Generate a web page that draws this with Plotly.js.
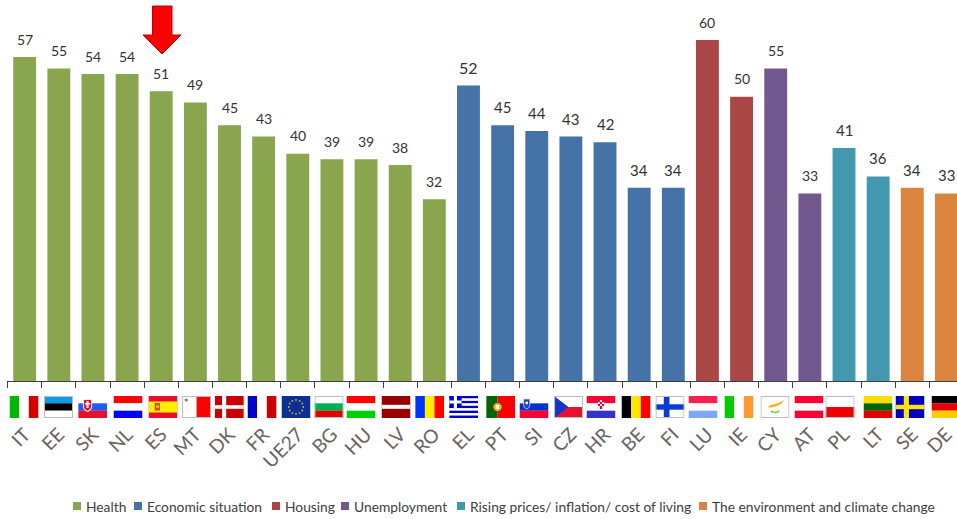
<!DOCTYPE html>
<html>
<head>
<meta charset="utf-8">
<script src="https://cdn.plot.ly/plotly-3.0.1.min.js"></script>
<style>html,body{margin:0;padding:0;background:#fff;overflow:hidden}#chart{width:957px;height:519px}</style>
</head>
<body>
<div id="chart"></div>
<script>
// Countries in chart order, with the share citing each country's top concern
const countries = ['IT','EE','SK','NL','ES','MT','DK','FR','UE27','BG','HU','LV','RO','EL','PT','SI','CZ','HR','BE','FI','LU','IE','CY','AT','PL','LT','SE','DE'];
const values = [57,55,54,54,51,49,45,43,40,39,39,38,32,52,45,44,43,42,34,34,60,50,55,33,41,36,34,33];
// Concerns, and how many consecutive countries fall under each one
const themes = ['Health','Economic situation','Housing','Unemployment','Rising prices/ inflation/ cost of living','The environment and climate change'];
const themeCounts = [13,7,2,2,2,2];
const themeColors = ['#89A54E','#4572A7','#AA4643','#71588F','#4198AF','#DB843D'];

// Page geometry, in pixels
const W = 957, H = 519, plotLeft = 7, axisY = 381;
const plotW = W - plotLeft;
const px = x => (x - plotLeft) / plotW;
const py = y => (axisY - y) / axisY;

// Value label sizes
const labelSizes = [14,14,14,14,14,14,14,14,14,14,14,14,14,16,15,15,15,15,15,15,14,14,14,14,15,15,15,15];

// Bars, one trace per concern
const traces = [];
let start = 0;
themes.forEach((name, i) => {
  const end = start + themeCounts[i];
  traces.push({
    type: 'bar', name,
    x: countries.slice(start, end),
    y: values.slice(start, end),
    width: 0.67,
    marker: {color: themeColors[i]},
    showlegend: false
  });
  start = end;
});

// Flag artwork on a 28 x 22 grid
const rect = (x, y, w, h, c) => `<rect x="${x}" y="${y}" width="${w}" height="${h}" fill="${c}"/>`;
const hBands = cs => cs.map((c, i) => rect(0, i * 22 / cs.length, 28, 22 / cs.length + 0.1, c)).join('');
const vBands = cs => cs.map((c, i) => rect(i * 28 / cs.length, 0, 28 / cs.length + 0.1, 22, c)).join('');
const frame = '<rect x="0.5" y="0.5" width="27" height="21" fill="none" stroke="#bdbdbd" stroke-width="1"/>';
const euStars = () => {
  let s = rect(0, 0, 28, 22, '#0b2f94');
  for (let k = 0; k < 12; k++) {
    const a = k * Math.PI / 6;
    s += `<circle cx="${14 + 7 * Math.cos(a)}" cy="${11 + 7 * Math.sin(a)}" r="0.9" fill="#c9b23c"/>`;
  }
  return s;
};
const flagArt = {
  IT: vBands(['#00b800','#ffffff','#d40000']),
  EE: hBands(['#0a9cea','#000000','#ffffff']) + frame,
  SK: hBands(['#ffffff','#1a5cff','#e8102a']) + `<path d="M5 3.5h8v7q0 3-4 5q-4-2-4-5z" fill="#e8102a" stroke="#eef" stroke-width="1"/>` + rect(8, 5, 2, 7, '#fff') + rect(6.5, 7, 5, 1.5, '#fff'),
  NL: hBands(['#ff0000','#ffffff','#0000ff']),
  ES: rect(0, 0, 28, 22, '#e8102a') + rect(0, 5.5, 28, 11, '#ffee00') + rect(6, 7, 5, 7.5, '#c8502a') + rect(7.5, 9, 2.5, 3, '#e8b020'),
  MT: vBands(['#ffffff','#ff0000']) + `<circle cx="4" cy="4" r="1.6" fill="#8a7a7a"/>` + frame,
  DK: rect(0, 0, 28, 22, '#c80000') + rect(7, 0, 4, 22, '#fff') + rect(0, 9.2, 28, 3.6, '#fff'),
  FR: vBands(['#0000c8','#ffffff','#cc0000']),
  UE27: euStars(),
  BG: hBands(['#ffffff','#00b050','#e00000']) + frame,
  HU: hBands(['#ff0000','#ffffff','#00d000']),
  LV: rect(0, 0, 28, 22, '#990000') + rect(0, 8.8, 28, 4, '#fff'),
  RO: vBands(['#0033ff','#ffee00','#ff0000']),
  EL: hBands(['#0000d0','#fff','#0000d0','#fff','#0000d0','#fff','#0000d0','#fff','#0000d0']) + rect(0, 0, 12, 12, '#0000d0') + rect(4.5, 0, 3, 12, '#fff') + rect(0, 4.5, 12, 3, '#fff'),
  PT: rect(0, 0, 11, 22, '#006600') + rect(11, 0, 17, 22, '#ff0000') + `<circle cx="11" cy="11" r="4.5" fill="#e8c020" stroke="#7a3a20" stroke-width="1"/>` + rect(9.5, 9, 3, 4, '#fff'),
  SI: hBands(['#ffffff','#0033cc','#ff0033']) + `<path d="M4 3h6v6q0 3-3 4q-3-1-3-4z" fill="#1a3fbf" stroke="#dde" stroke-width="0.8"/>` + `<circle cx="7" cy="7" r="1.4" fill="#fff"/>`,
  CZ: hBands(['#ffffff','#e81030']) + `<path d="M0 0L14 11L0 22z" fill="#1435c8"/>` + frame,
  HR: hBands(['#ff0033','#ffffff','#3333cc']) + rect(11, 4, 6, 9, '#e8e8f0') + rect(11, 4, 2, 2, '#cc1030') + rect(15, 4, 2, 2, '#cc1030') + rect(13, 6, 2, 2, '#cc1030') + rect(11, 8, 2, 2, '#cc1030') + rect(15, 8, 2, 2, '#cc1030') + rect(13, 10, 2, 3, '#cc1030'),
  BE: vBands(['#000000','#ffe600','#ff0000']),
  FI: rect(0, 0, 28, 22, '#fff') + rect(8, 0, 5.5, 22, '#0b3bd0') + rect(0, 8.3, 28, 5.4, '#0b3bd0') + frame,
  LU: hBands(['#ff1f4f','#ffffff','#7ea6ff']),
  IE: vBands(['#00cc00','#ffffff','#ff9a33']),
  CY: rect(0, 0, 28, 22, '#fff') + `<path d="M7 11q3-3 7-3q4-1 9-4q-2 3-5 5q-3 2-6 2q-2 1-5 0z" fill="#f5b21a"/>` + `<path d="M10 15q4 3 8 0" fill="none" stroke="#7fcf55" stroke-width="1.6"/>` + frame,
  AT: hBands(['#ff0033','#ffffff','#ff0033']),
  PL: hBands(['#ffffff','#f00000']) + frame,
  LT: hBands(['#ffdd00','#006600','#e00000']),
  SE: rect(0, 0, 28, 22, '#0000c0') + rect(8, 0, 5, 22, '#ffe600') + rect(0, 8.8, 28, 4.4, '#ffe600'),
  DE: hBands(['#000000','#e80000','#ffcc00'])
};
const flagCenters = [24,58.5,92.7,128,163,196.6,229.3,262,296,329,361,396,429.7,463.7,500.7,534,568.5,601,636,670,703,739,775,809,840,878,910,946];
const flagTop = 396, flagW = 29, flagH = 22;
const images = countries.map((c, i) => ({
  source: 'data:image/svg+xml;charset=utf-8,' + encodeURIComponent(
    `<svg xmlns="http://www.w3.org/2000/svg" width="28" height="22" viewBox="0 0 28 22" preserveAspectRatio="none">${flagArt[c]}</svg>`),
  xref: 'paper', yref: 'paper',
  x: px(flagCenters[i] - flagW / 2), y: py(flagTop),
  sizex: flagW / plotW, sizey: flagH / axisY,
  sizing: 'stretch', xanchor: 'left', yanchor: 'top', layer: 'above'
}));

// Value labels above each bar
const annotations = countries.map((c, i) => ({
  x: c, y: values[i], xref: 'x', yref: 'y',
  text: String(values[i]), showarrow: false,
  yanchor: 'middle', xanchor: 'center', yshift: 18,
  font: {family: 'Lato, sans-serif', size: labelSizes[i], color: '#333333'}
}));

// Hand-laid legend row
const legendSwatchX = [73,134,272,341,457,699];
const legendY = 506;
const shapes = [];
themes.forEach((name, i) => {
  shapes.push({
    type: 'rect', xref: 'paper', yref: 'paper',
    x0: px(legendSwatchX[i]), x1: px(legendSwatchX[i] + 8),
    y0: py(legendY + 4), y1: py(legendY - 4),
    fillcolor: themeColors[i], line: {width: 0}
  });
  annotations.push({
    xref: 'paper', yref: 'paper',
    x: px(legendSwatchX[i] + 11), y: py(legendY),
    text: name, showarrow: false, xanchor: 'left', yanchor: 'middle',
    font: {family: 'Lato, sans-serif', size: 13.8, color: '#404040'}
  });
});

// Red arrow pointing at Spain
const arrow = [[152.5,6],[172,6],[172,35],[181,35],[162,54],[143,35],[152.5,35]];
shapes.push({
  type: 'path', xref: 'paper', yref: 'paper',
  path: arrow.map((p, i) => (i ? 'L' : 'M') + px(p[0]) + ',' + py(p[1])).join('') + 'Z',
  fillcolor: '#ff0000', line: {color: '#c00000', width: 1}
});

const layout = {
  width: W, height: H,
  margin: {l: plotLeft, r: 0, t: 0, b: H - axisY, pad: 0},
  paper_bgcolor: '#ffffff', plot_bgcolor: '#ffffff',
  barmode: 'overlay',
  showlegend: false,
  xaxis: {
    type: 'category',
    categoryorder: 'array', categoryarray: countries,
    range: [-0.518, 27.31],
    tickson: 'boundaries', tickmode: 'linear', tick0: 0, dtick: 1,
    ticks: 'outside', ticklen: 6, tickcolor: '#404040', tickwidth: 1,
    showline: true, linecolor: '#404040', linewidth: 1,
    showgrid: false, zeroline: false,
    tickangle: -45, ticklabelstandoff: 34,
    tickfont: {family: 'Lato, sans-serif', size: 19, color: '#6b6262'}
  },
  yaxis: {range: [0, 67.04], visible: false, showgrid: false, zeroline: false, fixedrange: true},
  annotations, shapes, images
};

Plotly.newPlot('chart', traces, layout, {displayModeBar: false, staticPlot: true});
</script>
</body>
</html>
